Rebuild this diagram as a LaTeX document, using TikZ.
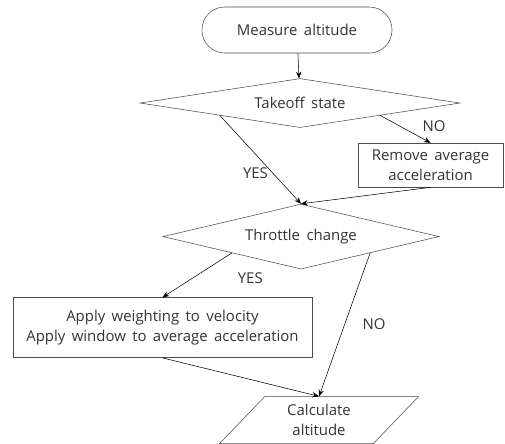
\documentclass[tikz,border=0pt]{standalone}
\usepackage{fontspec}
\setmainfont{Open Sans}
\usetikzlibrary{shapes.geometric, arrows.meta, positioning, calc}
\newcommand{\flowfont}{\fontsize{11.2}{15}\selectfont\spaceskip=4.8pt plus 1pt minus 1pt}
\tikzstyle{startstop} = [
  rectangle,
  rounded corners=17pt,
  minimum width=142.5pt,
  minimum height=34.5pt,
  text centered,
  draw=black!70,
  inner sep=0
]
\tikzstyle{decision} = [
  diamond,
  aspect=5,
  text centered,
  draw=black!70,
  inner sep=0
]
\tikzstyle{process} = [
  rectangle,
  align=center,
  draw=black!70,
  inner sep=0
]
\tikzstyle{io} = [
  trapezium,
  trapezium left angle=50,
  trapezium right angle=130,
  minimum width=150pt,
  minimum height=35.25pt,
  align=center,
  inner sep=0,
  draw=black!70,
  trapezium stretches=true
]
\tikzstyle{arrow} = [
  ->,
  >={Stealth[length=5pt, width=4pt]}
]

\begin{document}
\begin{tikzpicture}[font=\flowfont, text=black!80]
      \useasboundingbox (0,0) rectangle (378.75pt,-332.25pt);
      \node [startstop] (start) at (222.75pt,-22.5pt) {Measure altitude};
      \node [decision, below=18.75pt of start, xshift=2.25pt, minimum width=240pt, minimum height=36.75pt] (takeoff) {Takeoff state};
      \node [process, below=11.25pt of takeoff, xshift=97.9pt, minimum width=108.75pt, minimum height=33pt] (remove) {Remove average\\acceleration};
      \node [decision, below=57pt of takeoff, xshift=0.75pt, minimum width=207pt, minimum height=48.75pt] (throttle) {Throttle change};
      \node [process, below=21pt of throttle, xshift=-103.9pt, minimum width=224.25pt, minimum height=45pt] (apply) {Apply weighting to velocity\\Apply window to average acceleration};
      \node [io, below=95.25pt of throttle, xshift=13.5pt] (calc) {Calculate\\altitude};

      \draw [arrow] (start) -- (takeoff);
      \draw [arrow] ($(takeoff.south)!0.5!(takeoff.east)$) -- node[pos=0.75, above right] {NO} (remove.north);
      \draw [arrow] ($(takeoff.south)!0.5!(takeoff.west)$) -- node[pos=0.65, left] {YES} (throttle.north);
      \draw [arrow] (remove.south) -- (throttle.north);
      \draw [arrow] ($(throttle.south)!0.5!(throttle.west)$) -- node[midway, right, xshift=27pt, yshift=-2pt] {YES} (apply.north);
      \draw [arrow] ($(throttle.south)!0.5!(throttle.east)$) -- node[midway, right, xshift=10pt] {NO} (calc.north);
      \draw [arrow] (apply.south) -- (calc.north);

    \end{tikzpicture}
\end{document}
